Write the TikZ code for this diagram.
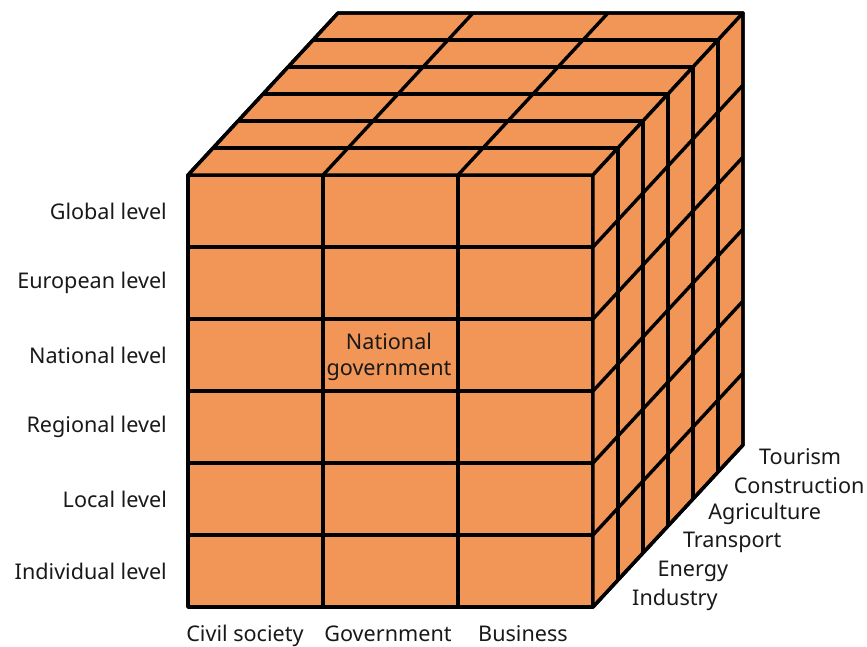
\documentclass[tikz,border=0pt]{standalone}
\usepackage{fontspec}
\setmainfont{Noto Sans}
\definecolor{cubeorange}{RGB}{242,150,87}
\definecolor{labelgray}{RGB}{25,25,25}

\tikzstyle{face} = [fill=cubeorange, draw, line width=3.4pt, line join=round]
\tikzstyle{gridline} = [draw, line width=3.4pt]
\tikzstyle{level} = [anchor=east, inner sep=0pt, text=labelgray]
\tikzstyle{actor} = [anchor=base, inner sep=0pt, text=labelgray]
\tikzstyle{sector} = [anchor=west, inner sep=0pt, text=labelgray]

\begin{document}
\begin{tikzpicture}[x=1pt, y=-1pt, font=\fontsize{21.6}{26}\selectfont]
  \useasboundingbox (0,0) rectangle (867,646);
  % cube faces
  \draw[face] (188,175) rectangle (593,607);
  \draw[face] (188,175) -- (338,13) -- (743,13) -- (593,175) -- cycle;
  \draw[face] (593,175) -- (743,13) -- (743,445) -- (593,607) -- cycle;
  % front grid
  \foreach \x in {323,458}
    \draw[gridline] (\x,175) -- (\x,607);
  \foreach \y in {247,319,391,463,535}
    \draw[gridline] (188,\y) -- (593,\y);
  % top grid
  \foreach \i in {1,...,5}
    \draw[gridline] (188+25*\i,175-27*\i) -- ++(405,0);
  \foreach \x in {323,458}
    \draw[gridline] (\x,175) -- ++(150,-162);
  % right grid
  \foreach \i in {1,...,5}
    \draw[gridline] (593+25*\i,175-27*\i) -- ++(0,432);
  \foreach \y in {247,319,391,463,535}
    \draw[gridline] (593,\y) -- ++(150,-162);
  % outline again
  \draw[line width=3.4pt, line join=round] (188,607) -- (188,175) -- (338,13) -- (743,13) -- (743,445) -- (593,607) -- cycle;

  % levels
  \node[level] (global) at (167,211) {Global level};
  \node[level] (european) at (167,283) {European level};
  \node[level] (national) at (167,355) {National level};
  \node[level] (regional) at (167,427) {Regional level};
  \node[level] (local) at (167,499) {Local level};
  \node[level] (individual) at (167,571) {Individual level};

  % actors
  \node[actor] (civil) at (245,641) {Civil society};
  \node[actor] (gov) at (388,641) {Government};
  \node[actor] (business) at (523,641) {Business};

  % sectors
  \foreach \s [count=\i from 0] in {Industry,Energy,Transport,Agriculture,Construction,Tourism}
    \node[sector] (sec\i) at (632+25.4*\i,600-28.6*\i) {\s};

  \node[align=center, inner sep=0pt, text=labelgray] (natgov) at (389,357) {National\\government};
\end{tikzpicture}
\end{document}
